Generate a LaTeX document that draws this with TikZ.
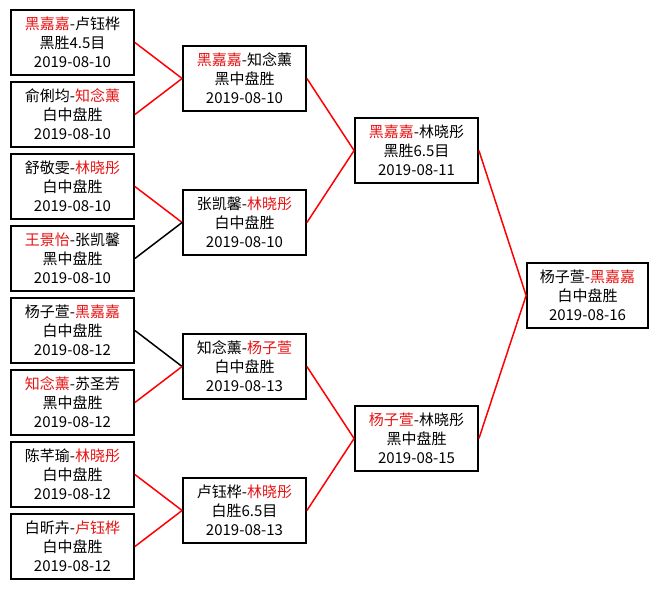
\documentclass[tikz,border=0pt]{standalone}
\usepackage{fontspec}
\setmainfont{Noto Sans CJK SC}
\newcommand\rn[1]{\textcolor{namered}{#1}}
\definecolor{namered}{RGB}{230,20,20}
\begin{document}
\begin{tikzpicture}[x=1pt,y=-1pt,
  box/.style={draw, line width=1.8pt, minimum width=123pt, minimum height=65pt, inner sep=0pt, align=center, font=\fontsize{15}{19}\selectfont, fill=white},
  win/.style={draw=red, line width=1.5pt},
  lose/.style={draw=black, line width=1.5pt}]
\useasboundingbox[fill=white] (0,0) rectangle (660,589);
% column 1
\node[box] (a1) at (72.5,42.5)  {\rn{黑嘉嘉}-卢钰桦\\黑胜4.5目\\2019-08-10};
\node[box] (a2) at (72.5,114.5) {俞俐均-\rn{知念薰}\\白中盘胜\\2019-08-10};
\node[box] (a3) at (72.5,186.5) {舒敬雯-\rn{林晓彤}\\白中盘胜\\2019-08-10};
\node[box] (a4) at (72.5,258.5) {\rn{王景怡}-张凯馨\\黑中盘胜\\2019-08-10};
\node[box] (a5) at (72.5,330.5) {杨子萱-\rn{黑嘉嘉}\\白中盘胜\\2019-08-12};
\node[box] (a6) at (72.5,402.5) {\rn{知念薰}-苏圣芳\\黑中盘胜\\2019-08-12};
\node[box] (a7) at (72.5,474.5) {陈芊瑜-\rn{林晓彤}\\白中盘胜\\2019-08-12};
\node[box] (a8) at (72.5,546.5) {白昕卉-\rn{卢钰桦}\\白中盘胜\\2019-08-12};
% column 2
\node[box] (b1) at (244.5,78.5)  {\rn{黑嘉嘉}-知念薰\\黑中盘胜\\2019-08-10};
\node[box] (b2) at (244.5,222.5) {张凯馨-\rn{林晓彤}\\白中盘胜\\2019-08-10};
\node[box] (b3) at (244.5,366.5) {知念薰-\rn{杨子萱}\\白中盘胜\\2019-08-13};
\node[box] (b4) at (244.5,510.5) {卢钰桦-\rn{林晓彤}\\白胜6.5目\\2019-08-13};
% column 3
\node[box] (c1) at (416.5,150.5) {\rn{黑嘉嘉}-林晓彤\\黑胜6.5目\\2019-08-11};
\node[box] (c2) at (416.5,438.5) {\rn{杨子萱}-林晓彤\\黑中盘胜\\2019-08-15};
% column 4
\node[box, minimum width=121pt] (d1) at (587.5,295.5) {杨子萱-\rn{黑嘉嘉}\\白中盘胜\\2019-08-16};
% connectors
\draw[win]  (a1.east) -- (b1.west);
\draw[win]  (a2.east) -- (b1.west);
\draw[win]  (a3.east) -- (b2.west);
\draw[lose] (a4.east) -- (b2.west);
\draw[lose] (a5.east) -- (b3.west);
\draw[win]  (a6.east) -- (b3.west);
\draw[win]  (a7.east) -- (b4.west);
\draw[win]  (a8.east) -- (b4.west);
\draw[win]  (b1.east) -- (c1.west);
\draw[win]  (b2.east) -- (c1.west);
\draw[win]  (b3.east) -- (c2.west);
\draw[win]  (b4.east) -- (c2.west);
\draw[win]  (c1.east) -- (d1.west);
\draw[win]  (c2.east) -- (d1.west);
\end{tikzpicture}
\end{document}
